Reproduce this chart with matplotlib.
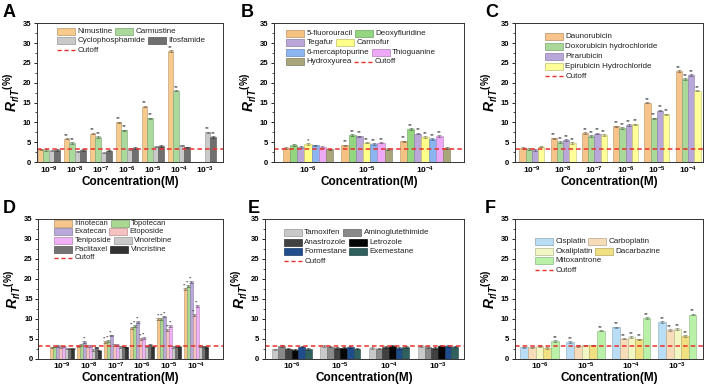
import matplotlib.pyplot as plt
import numpy as np
from matplotlib.patches import Rectangle

plt.rcParams['font.family'] = ['Liberation Sans', 'DejaVu Sans']
plt.rcParams['mathtext.fontset'] = 'custom'
plt.rcParams['mathtext.rm'] = 'Liberation Sans:bold'
plt.rcParams['mathtext.it'] = 'Liberation Sans:italic:bold'
plt.rcParams['mathtext.bf'] = 'Liberation Sans:bold'

CUTOFF = 3.3
ERR = 0.2
nan = np.nan

# ---- panel A
a_ticks = ['-9', '-8', '-7', '-6', '-5', '-4', '-3']
a_names = ['Nimustine', 'Carmustine', 'Cyclophosphamide', 'Ifosfamide']
a_vals = [[3.2, 5.9, 7.2, 10.0, 14.0, 28.0, nan],
          [3.1, 4.8, 6.3, 8.0, 11.0, 18.0, nan],
          [2.9, 2.7, 2.4, 3.3, 3.9, 4.2, 7.5],
          [3.0, 3.0, 2.9, 3.5, 4.0, 3.7, 6.3]]
a_sig = [['', '**', '**', '**', '**', '**', ''],
         ['', '**', '**', '**', '**', '**', ''],
         ['', '', '', '', '', '', '**'],
         ['', '', '', '', '', '', '**']]
a_cols = ['#f6c98c', '#a9d99b', '#c9c9c9', '#6f6f6f']
a_rows = [[0, 1], [2, 3], ['cut']]

# ---- panel B
b_ticks = ['-6', '-5', '-4']
b_names = ['5-fluorouracil', 'Deoxyfluridine', 'Tegafur', 'Carmofur',
           '6-mercaptopurine', 'Thioguanine', 'Hydroxyurea']
b_vals = [[3.5, 4.2, 5.2],
          [4.3, 6.9, 8.4],
          [3.8, 6.5, 7.2],
          [4.5, 4.9, 6.3],
          [4.2, 4.5, 5.8],
          [3.8, 4.9, 6.6],
          [3.2, 3.3, 3.5]]
b_sig = [['', '**', '**'], ['', '**', '**'], ['', '**', '**'], ['*', '**', '**'],
         ['', '**', '**'], ['', '**', '**'], ['', '', '']]
b_cols = ['#f6c283', '#93d67f', '#baa7d7', '#ffff8a', '#8bb5f0', '#eda9f5', '#a9a67c']
b_rows = [[0, 1], [2, 3], [4, 5], [6, 'cut']]

# ---- panel C
c_ticks = ['-9', '-8', '-7', '-6', '-5', '-4']
c_names = ['Daunorubicin', 'Doxorubicin hydrochloride', 'Pirarubicin',
           'Epirubicin Hydrochloride']
c_vals = [[3.5, 6.0, 7.4, 9.0, 15.0, 23.0],
          [3.3, 5.0, 6.6, 8.6, 11.0, 21.0],
          [3.0, 5.5, 7.2, 9.4, 13.0, 22.0],
          [3.9, 4.8, 6.8, 9.5, 12.0, 18.0]]
c_sig = [['', '**', '**', '**', '**', '**']] * 4
c_cols = ['#f6c38b', '#a9d899', '#b9a7da', '#ffff9a']
c_rows = [[0], [1], [2], [3], ['cut']]

# ---- panel D
d_ticks = ['-9', '-8', '-7', '-6', '-5', '-4']
d_names = ['Irinotecan', 'Topotecan', 'Exatecan', 'Etoposide', 'Teniposide',
           'Vinorelbine', 'Paclitaxel', 'Vincristine']
d_vals = [[2.9, 3.2, 4.3, 7.8, 10.0, 17.5],
          [3.1, 3.5, 4.5, 8.2, 10.0, 18.2],
          [3.2, 4.3, 5.9, 9.2, 10.6, 19.2],
          [3.0, 3.2, 3.5, 5.0, 7.3, 11.0],
          [3.1, 3.2, 3.5, 5.2, 8.2, 13.2],
          [2.6, 2.3, 3.0, 3.1, 3.0, 3.3],
          [2.6, 2.9, 3.1, 3.6, 3.1, 3.1],
          [2.6, 2.1, 2.9, 3.1, 3.1, 3.0]]
d_sig = [['', '', '**', '**', '**', '**'],
         ['', '', '**', '**', '**', '**'],
         ['', '**', '**', '**', '**', '**'],
         ['', '', '', '**', '**', '**'],
         ['', '', '', '**', '**', '**'],
         [''] * 6, [''] * 6, [''] * 6]
d_cols = ['#f6c58b', '#a9d991', '#b9a9d9', '#f5c1c1', '#f0b1f6', '#c9c9c9', '#717171', '#323232']
d_rows = [[0, 1], [2, 3], [4, 5], [6, 7], ['cut']]

# ---- panel E
e_ticks = ['-6', '-5', '-4', '-3']
e_names = ['Tamoxifen', 'Aminoglutethimide', 'Anastrozole', 'Letrozole',
           'Formestane', 'Exemestane']
e_vals = [[2.4, 3.2, 2.8, 3.2],
          [3.2, 3.1, 2.6, 3.0],
          [2.6, 2.7, 3.0, 2.8],
          [2.2, 2.7, 3.2, 3.2],
          [3.1, 3.0, 2.8, 3.3],
          [2.5, 2.6, 3.0, 3.1]]
e_sig = [[''] * 4] * 6
e_cols = ['#c9c9c9', '#898989', '#414141', '#050505', '#1f4d8b', '#2f605e']
e_rows = [[0, 1], [2, 3], [4, 5], ['cut']]

# ---- panel F
f_ticks = ['-6', '-5', '-4', '-3']
f_names = ['Cisplatin', 'Carboplatin', 'Oxaliplatin', 'Dacarbazine', 'Mitoxantrone']
f_vals = [[2.9, 4.3, 7.9, 9.2],
          [2.9, 3.3, 5.1, 7.2],
          [3.2, 3.4, 5.5, 7.5],
          [2.8, 3.4, 4.9, 5.8],
          [4.5, 7.1, 10.2, 11.1]]
f_sig = [['', '**', '**', '**'],
         ['', '', '**', '**'],
         ['', '', '**', '**'],
         ['', '', '**', '**'],
         ['**', '**', '**', '**']]
f_cols = ['#b9ddf5', '#f6dcb9', '#f1f6c2', '#f1e082', '#b9f1a9']
f_rows = [[0, 1], [2, 3], [4], ['cut']]


def darker(c, f=0.6):
    r, g, b = plt.matplotlib.colors.to_rgb(c)
    return (r * f, g * f, b * f)


def flow_legend(ax, rows, names, cols, x0, y0, dy, fs=5.8, pw=18, ph=7):
    # Origin-style legend: every row is laid out on its own
    rend = ax.figure.canvas.get_renderer()
    bb = ax.get_window_extent(rend)
    for k, row in enumerate(rows):
        x = x0
        y = y0 - k * dy / bb.height
        for item in row:
            if item == 'cut':
                ax.plot([x, x + pw / bb.width], [y, y], transform=ax.transAxes,
                        color='#e8302a', ls=(0, (3, 2)), lw=1.0, clip_on=False)
                label = 'Cutoff'
            else:
                ax.add_patch(Rectangle((x, y - ph / 2 / bb.height), pw / bb.width, ph / bb.height,
                                       transform=ax.transAxes, fc=cols[item],
                                       ec=darker(cols[item], 0.75), lw=0.5, clip_on=False))
                label = names[item]
            t = ax.text(x + (pw + 2.5) / bb.width, y, label, transform=ax.transAxes,
                        va='center', ha='left', fontsize=fs, color='#222222')
            tw = t.get_window_extent(rend).width
            x = x + (pw + 2.5 + tw + 2.5) / bb.width


def panel(ax, ticks, names, vals, sig, cols, xlim, group_w=0.8, sig_fs=4.5):
    n = len(names)
    x = np.arange(len(ticks))
    w = group_w / n
    for i in range(n):
        pos = x - group_w / 2 + w * (i + 0.5)
        v = np.array(vals[i], dtype=float)
        ax.bar(pos, v, w, color=cols[i], edgecolor=darker(cols[i], 0.75), linewidth=0.4)
        ax.errorbar(pos, v, yerr=ERR, fmt='none', ecolor=darker(cols[i], 0.45),
                    elinewidth=0.4, capsize=1.2, capthick=0.4)
        for j in range(len(ticks)):
            if sig[i][j] and not np.isnan(v[j]):
                ax.text(pos[j], v[j] + ERR + 0.05, sig[i][j], ha='center', va='bottom',
                        fontsize=sig_fs, color='#333333')
    ax.axhline(CUTOFF, color='#e8302a', ls=(0, (3, 2)), lw=1.1)
    ax.set_ylim(0, 35)
    ax.set_xlim(*xlim)
    ax.set_yticks(np.arange(0, 36, 5))
    ax.set_yticks(np.arange(0, 36, 2.5), minor=True)
    ax.tick_params(axis='y', labelsize=5.5, length=2.5, width=0.6, pad=1.5)
    ax.tick_params(axis='y', which='minor', length=1.5, width=0.5)
    ax.set_xticks(x)
    ax.set_xticklabels([r'$\mathbf{10^{' + t + '}}$' for t in ticks], fontsize=6)
    ax.tick_params(axis='x', length=0, pad=1.5)
    for t in ax.get_yticklabels():
        t.set_fontweight('bold')
    for s in ax.spines.values():
        s.set_linewidth(0.7)
        s.set_color('#333333')
    ax.set_xlabel('Concentration(M)', fontsize=8.5, fontweight='bold', labelpad=0)
    ax.set_ylabel(r'$R_{r/T}{}^{(\%)}$', fontsize=10, labelpad=0.5)


fig = plt.figure(figsize=(7.08, 3.86), dpi=100)
axA = fig.add_axes([0.052, 0.58, 0.263, 0.36])
axB = fig.add_axes([0.387, 0.58, 0.268, 0.36])
axC = fig.add_axes([0.727, 0.58, 0.266, 0.36])
axD = fig.add_axes([0.054, 0.07, 0.261, 0.363])
axE = fig.add_axes([0.374, 0.07, 0.281, 0.363])
axF = fig.add_axes([0.727, 0.07, 0.266, 0.363])

panel(axA, a_ticks, a_names, a_vals, a_sig, a_cols, (-0.46, 6.7), group_w=0.84)
panel(axB, b_ticks, b_names, b_vals, b_sig, b_cols, (-0.58, 2.66), group_w=0.86)
panel(axC, c_ticks, c_names, c_vals, c_sig, c_cols, (-0.55, 5.48), group_w=0.8)
panel(axD, d_ticks, d_names, d_vals, d_sig, d_cols, (-0.9, 6.03), group_w=0.9, sig_fs=3.2)
panel(axE, e_ticks, e_names, e_vals, e_sig, e_cols, (-0.55, 3.53), group_w=0.82)
panel(axF, f_ticks, f_names, f_vals, f_sig, f_cols, (-0.54, 3.56), group_w=0.83)

flow_legend(axA, a_rows, a_names, a_cols, 0.108, 0.942, 9.5)
flow_legend(axB, b_rows, b_names, b_cols, 0.063, 0.928, 9.5)
flow_legend(axC, c_rows, c_names, c_cols, 0.16, 0.906, 10)
flow_legend(axD, d_rows, d_names, d_cols, 0.085, 0.97, 8.7, fs=5.5)
flow_legend(axE, e_rows, e_names, e_cols, 0.095, 0.9, 9.5)
flow_legend(axF, f_rows, f_names, f_cols, 0.106, 0.836, 9.5)

for letter, px, py in [('A', 3, 17), ('B', 241, 17), ('C', 485, 17),
                       ('D', 3, 213), ('E', 248, 213), ('F', 485, 213)]:
    fig.text(px / 708, 1 - py / 386, letter, fontsize=13, fontweight='bold',
             ha='left', va='baseline')

fig.savefig('out.png', dpi=100)
